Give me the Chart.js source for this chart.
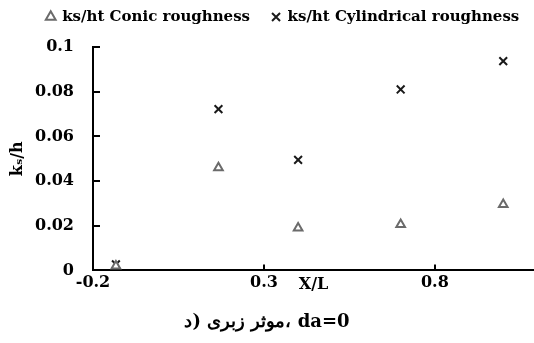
<!DOCTYPE html>
<html>
<head>
<meta charset="utf-8">
<script src="https://cdn.jsdelivr.net/npm/chart.js@4"></script>
<style>
  body { margin: 0; background: #fff; }
  #wrap { width: 534px; height: 343px; }
</style>
</head>
<body>
<div id="wrap"><canvas id="chart"></canvas></div>
<script>
const conicX = [-0.133, 0.167, 0.4, 0.7, 1.0];
const conicY = [0.002, 0.046, 0.019, 0.0205, 0.0295];
const cylX = [-0.133, 0.167, 0.4, 0.7, 1.0];
const cylY = [0.0027, 0.0722, 0.0495, 0.081, 0.0937];
const xTicks = [-0.2, 0.3, 0.8];
const xTickLabels = ["-0.2", "0.3", "0.8"];
const yTicks = [0, 0.02, 0.04, 0.06, 0.08, 0.1];
const yTickLabels = ["0", "0.02", "0.04", "0.06", "0.08", "0.1"];

const SERIF = "'DejaVu Serif', 'Liberation Serif', serif";
const pts = (xs, ys) => xs.map((x, i) => ({ x, y: ys[i] }));

function setTicks(values) {
  return (scale) => {
    scale.ticks = values.map((v) => ({ value: v }));
  };
}

// legend sits a bit right of centre in the original
const shiftLegend = {
  id: "shiftLegend",
  afterLayout(chart) {
    if (!chart.legend) return;
    chart.legend.left += 16;
    chart.legend.right += 16;
  },
};

new Chart(document.getElementById("chart").getContext("2d"), {
  type: "scatter",
  data: {
    datasets: [
      {
        label: "ks/ht Conic roughness",
        data: pts(conicX, conicY),
        pointStyle: "triangle",
        pointRadius: 5,
        borderColor: "#6b6b6b",
        backgroundColor: "#ffffff",
        borderWidth: 2,
      },
      {
        label: "ks/ht Cylindrical roughness",
        data: pts(cylX, cylY),
        pointStyle: "crossRot",
        pointRadius: 5.5,
        borderColor: "#1a1a1a",
        backgroundColor: "#1a1a1a",
        borderWidth: 2,
      },
    ],
  },
  plugins: [shiftLegend],
  options: {
    responsive: true,
    maintainAspectRatio: false,
    animation: false,
    layout: { autoPadding: false, padding: { left: 0, right: 0, top: -12.5, bottom: 3 } },
    plugins: {
      tooltip: { enabled: false },
      legend: {
        position: "top",
        labels: {
          usePointStyle: true,
          boxWidth: 8,
          boxHeight: 8,
          padding: 22,
          color: "#000",
          font: { family: SERIF, size: 15, weight: "bold" },
        },
      },
      // empty spacer between legend and plot
      subtitle: {
        display: true,
        position: "top",
        weight: 500,
        text: "",
        font: { size: 12.5, lineHeight: 1 },
        padding: 0,
      },
      title: {
        display: true,
        position: "bottom",
        text: "د)\u200E \u200Eزبری\u200E \u200Eموثر،\u200E da=0",
        color: "#000",
        font: { family: SERIF, size: 18, weight: "bold" },
        padding: { top: 2, bottom: 7 },
      },
    },
    scales: {
      x: {
        type: "linear",
        min: -0.2,
        max: 1.09,
        afterBuildTicks: setTicks(xTicks),
        afterFit: (s) => { s.height = 39; s.paddingRight = 0; s.paddingLeft = 0; },
        border: { display: true, color: "#000", width: 2 },
        grid: { drawOnChartArea: false, drawTicks: true, tickLength: -6, color: "#000", lineWidth: 2 },
        ticks: {
          padding: 9,
          color: "#000",
          font: { family: SERIF, size: 16, weight: "bold" },
          callback: (v) => xTickLabels[xTicks.indexOf(v)] ?? "",
        },
        title: {
          display: true,
          text: "X/L",
          color: "#000",
          font: { family: SERIF, size: 16, weight: "bold" },
          padding: { top: 0, bottom: 15 },
        },
      },
      y: {
        min: 0,
        max: 0.1,
        afterBuildTicks: setTicks(yTicks),
        afterFit: (s) => { s.width = 93; },
        border: { display: true, color: "#000", width: 2 },
        grid: { drawOnChartArea: false, drawTicks: true, tickLength: -7, color: "#000", lineWidth: 2 },
        ticks: {
          padding: 26,
          color: "#000",
          font: { family: SERIF, size: 16, weight: "bold" },
          callback: (v) => yTickLabels[yTicks.indexOf(v)] ?? "",
        },
        title: {
          display: true,
          text: "kₛ/h",
          color: "#000",
          font: { family: SERIF, size: 16, weight: "bold" },
          padding: { top: 8, bottom: 0 },
        },
      },
    },
  },
});
</script>
</body>
</html>
